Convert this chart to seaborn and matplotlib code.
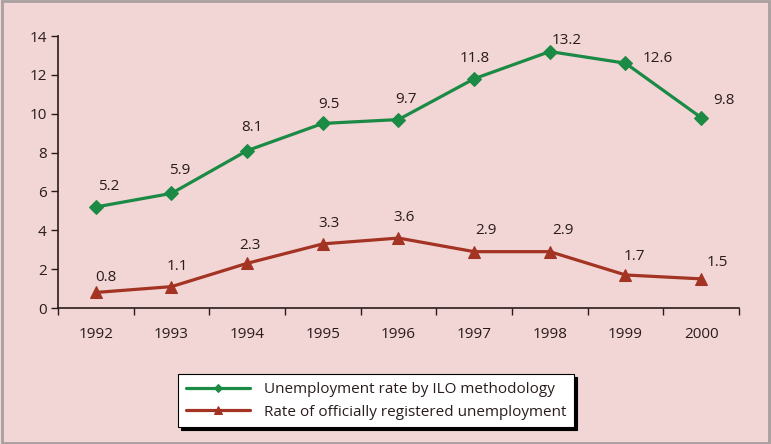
import numpy as np
import pandas as pd
import seaborn as sns
import matplotlib.pyplot as plt
from matplotlib.patches import Rectangle
from matplotlib.ticker import FixedLocator, NullFormatter

years = [1992, 1993, 1994, 1995, 1996, 1997, 1998, 1999, 2000]
ilo_rate = [5.2, 5.9, 8.1, 9.5, 9.7, 11.8, 13.2, 12.6, 9.8]
registered_rate = [0.8, 1.1, 2.3, 3.3, 3.6, 2.9, 2.9, 1.7, 1.5]
ilo_name = 'Unemployment rate by ILO methodology'
reg_name = 'Rate of officially registered unemployment'

# label offsets in pixels (hand placed like in the original)
ilo_off = [(13, 20), (8, 23), (5, 23), (6, 19), (8, 20), (1, 20), (17, 11), (32, 5), (23, 17)]
reg_off = [(10, 15), (6, 20), (3, 18), (6, 20), (6, 21), (12, 21), (13, 21), (9, 18), (16, 16)]

bg = '#f2d5d5'
green = '#1b8a45'
red = '#a33322'
dark = '#2a1c1c'

sns.set_theme(style='white')
plt.rcParams['font.family'] = ['Open Sans', 'DejaVu Sans']

fig = plt.figure(figsize=(7.71, 4.44), dpi=100, facecolor=bg)
ax = fig.add_axes([0.0752, 0.3063, 0.8833, 0.6126])
ax.set_facecolor(bg)

df_ilo = pd.DataFrame({'year': years, 'rate': ilo_rate})
df_reg = pd.DataFrame({'year': years, 'rate': registered_rate})

sns.lineplot(data=df_ilo, x='year', y='rate', ax=ax, color=green, lw=2.3,
             marker='D', markersize=7, markeredgecolor=green, label=ilo_name)
sns.lineplot(data=df_reg, x='year', y='rate', ax=ax, color=red, lw=2.3,
             marker='^', markersize=9, markeredgecolor=red, label=reg_name)

for x, y, (dx, dy) in zip(years, ilo_rate, ilo_off):
    ax.annotate(f'{y:.1f}', (x, y), xytext=(dx, dy), textcoords='offset pixels',
                ha='center', va='center', fontsize=11, color=dark)
for x, y, (dx, dy) in zip(years, registered_rate, reg_off):
    ax.annotate(f'{y:.1f}', (x, y), xytext=(dx, dy), textcoords='offset pixels',
                ha='center', va='center', fontsize=11, color=dark)

ax.set_xlim(years[0] - 0.5, years[-1] + 0.5)
ax.set_ylim(0, 14)
ax.set_yticks(np.arange(0, 15, 2))
ax.xaxis.set_major_locator(FixedLocator(np.arange(years[0] - 0.5, years[-1] + 1, 1)))
ax.xaxis.set_major_formatter(NullFormatter())
ax.set_xticks(years, minor=True)
ax.set_xticklabels([str(y) for y in years], minor=True)
ax.tick_params(axis='x', which='major', direction='out', length=5, width=1, color=dark, bottom=True)
ax.tick_params(axis='x', which='minor', length=0, pad=14, labelsize=11, labelcolor=dark)
ax.tick_params(axis='y', direction='out', length=5, width=1, color=dark, left=True,
               labelsize=11, labelcolor=dark, pad=3)
ax.set_xlabel('')
ax.set_ylabel('')
for s in ['top', 'right']:
    ax.spines[s].set_visible(False)
for s in ['left', 'bottom']:
    ax.spines[s].set_color(dark)
    ax.spines[s].set_linewidth(1.2)

handles, labels = ax.get_legend_handles_labels()
ax.get_legend().remove()
leg = fig.legend(handles, labels, loc='center', bbox_to_anchor=(0.488, 0.097),
                 frameon=True, fancybox=False, shadow={'color': 'black', 'alpha': 1},
                 fontsize=11, handlelength=4.2, borderpad=0.5, labelspacing=0.5,
                 handletextpad=0.9, borderaxespad=0, markerscale=0.6)
leg.get_frame().set_edgecolor('black')
leg.get_frame().set_linewidth(0.8)
leg.get_frame().set_facecolor('white')
for t in leg.get_texts():
    t.set_color(dark)

fig.patches.append(Rectangle((0.002, 0.003), 0.995, 0.994, transform=fig.transFigure,
                             fill=False, edgecolor='#a8a0a0', lw=2))

fig.savefig('out.png', dpi=100, facecolor=bg)
